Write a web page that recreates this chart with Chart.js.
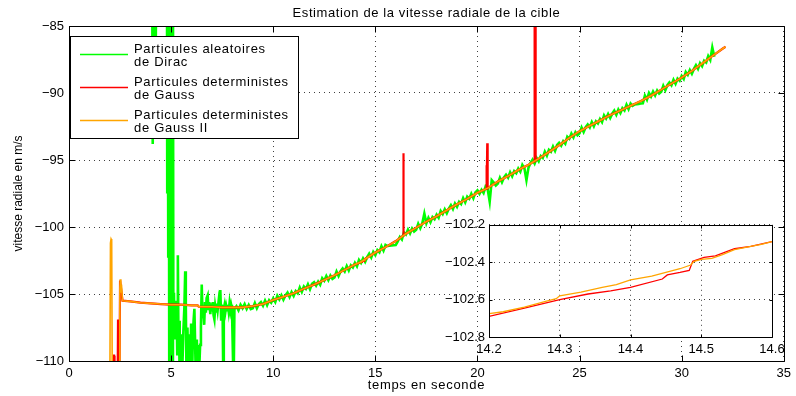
<!DOCTYPE html>
<html>
<head>
<meta charset="utf-8">
<script src="https://cdn.jsdelivr.net/npm/chart.js@4.4.0/dist/chart.umd.min.js"></script>
<style>
    body { margin: 0; background: #fff; }
    #wrap { position: relative; width: 796px; height: 396px; }
    #chart { position: absolute; left: 0; top: 0; }
    #inset { position: absolute; left: 425px; top: 213px; }
</style>
</head>
<body>
<div id="wrap">
    <canvas id="chart" width="796" height="396"></canvas>
    <canvas id="inset" width="365" height="150"></canvas>
</div>
<script>
// Data
const chartTitle = 'Estimation de la vitesse radiale de la cible'
const xTitle = 'temps en seconde'
const yTitle = 'vitesse radiale en m/s'
const seriesLabels = [
    ['Particules aleatoires', 'de Dirac'],
    ['Particules deterministes', 'de Gauss'],
    ['Particules deterministes', 'de Gauss II']
]
const seriesColors = ['rgb(0, 255, 0)', 'rgb(255, 0, 0)', 'rgb(255, 165, 0)']

const xTicks = [0, 5, 10, 15, 20, 25, 30, 35]
const yTicks = [-110, -105, -100, -95, -90, -85]
const insetXTicks = [14.2, 14.3, 14.4, 14.5, 14.6]
const insetYTicks = [-102.8, -102.6, -102.4, -102.2]

// Dirac particles, transient part [t, v]
const diracStart = [
    [4.05, -70], [4.10, -93.8], [4.13, -80], [4.17, -86.5], [4.21, -79], [4.25, -86], [4.29, -78], [4.32, -70],
    [4.79, -70], [4.81, -97.4], [4.83, -75], [4.86, -102.2], [4.88, -75], [4.91, -112], [4.94, -75], [4.97, -112],
    [5.01, -78], [5.05, -112], [5.09, -80], [5.11, -108.0], [5.14, -104.9], [5.17, -108.4], [5.20, -105.5],
    [5.23, -107.5], [5.27, -106.0], [5.30, -109.5], [5.33, -102.1], [5.36, -108.5], [5.39, -107.0], [5.42, -112],
    [5.45, -108.0], [5.48, -112], [5.52, -108.8], [5.55, -110.5], [5.60, -107.8], [5.65, -106.0], [5.69, -103.3],
    [5.72, -105.8], [5.76, -112], [5.80, -107.5], [5.85, -112], [5.90, -108.0], [5.95, -109.8], [5.98, -107.2],
    [6.02, -112], [6.06, -108.5], [6.10, -107.0], [6.14, -106.1], [6.18, -109.0], [6.22, -112], [6.26, -108.4],
    [6.30, -112], [6.34, -108.8], [6.38, -110.5], [6.42, -108.8], [6.46, -107.5], [6.50, -104.3], [6.54, -106.8],
    [6.58, -106.2], [6.62, -107.3], [6.66, -105.6], [6.70, -106.4], [6.74, -105.3], [6.79, -105.1], [6.83, -106.2],
    [6.87, -105.6], [6.92, -106.5], [6.96, -105.7], [7.00, -106.3], [7.04, -105.6], [7.08, -106.6], [7.12, -106.9],
    [7.16, -105.9], [7.20, -106.3], [7.24, -105.7], [7.28, -106.2], [7.33, -105.5], [7.37, -106.0], [7.41, -104.7],
    [7.45, -106.9], [7.48, -105.8], [7.52, -106.2], [7.56, -112], [7.58, -106.1], [7.62, -105.8], [7.66, -106.3],
    [7.70, -105.9], [7.74, -106.2], [7.78, -105.8], [7.82, -106.3], [7.86, -105.7], [7.90, -106.2], [7.94, -105.8],
    [7.98, -106.1], [8.06, -112]
]
// Dirac particles, noisy part, one value every 0.1 s from 8.1 s
const diracTailT0 = 8.1
const diracTailDt = 0.1
const diracTail = [
    -106.14, -105.92, -106.22, -105.8, -106.06, -105.76, -106.12, -105.82, -106.12,
    -106.06, -105.67, -106.06, -105.75, -105.6, -105.87, -105.49, -105.83, -105.47, -105.65,
    -105.33, -105.6, -105.13, -105.4, -105.09, -105.42, -105.11, -104.9, -105.23, -104.86,
    -105.15, -104.78, -104.95, -104.52, -104.85, -104.44, -104.62, -104.28, -104.64, -104.24,
    -104.12, -104.37, -104.08, -104.31, -103.82, -104.01, -103.66, -103.97, -103.62, -103.87,
    -103.76, -103.32, -103.66, -103.3, -103.1, -103.32, -102.92, -103.24, -102.86, -103.02,
    -102.68, -102.94, -102.46, -102.68, -102.34, -102.6, -102.25, -101.99, -102.28, -101.86,
    -102.1, -101.72, -101.88, -101.44, -101.76, -101.34, -101.42, -101.4, -101.38, -101.36,
    -101.34, -101.08, -100.75, -100.94, -100.41, -100.56, -100.19, -100.48, -100.11, -100.34,
    -100.21, -99.76, -100.09, -99.72, -99.0, -99.72, -99.32, -99.64, -99.26, -99.42,
    -99.08, -99.31, -98.8, -99.03, -98.68, -98.97, -98.62, -98.37, -98.66, -98.25,
    -98.5, -98.12, -98.28, -97.84, -98.16, -97.74, -97.89, -97.52, -97.85, -97.42,
    -97.27, -97.52, -97.23, -97.46, -96.97, -97.16, -98.1, -96.5, -96.68, -96.9,
    -96.76, -96.32, -96.66, -96.3, -96.1, -96.32, -95.91, -96.22, -95.83, -95.98,
    -95.63, -95.87, -95.37, -95.61, -96.5, -95.57, -95.22, -94.97, -95.26, -94.85,
    -95.1, -94.7, -94.84, -94.38, -94.68, -94.24, -94.38, -94.0, -94.32, -93.88,
    -93.72, -93.93, -93.6, -93.79, -93.26, -93.41, -93.03, -93.31, -92.93, -93.15,
    -93.01, -92.57, -92.91, -92.55, -92.35, -92.57, -92.17, -92.49, -92.11, -92.27,
    -91.93, -92.17, -91.67, -91.91, -91.57, -91.87, -91.54, -91.31, -91.62, -91.23,
    -91.5, -91.13, -91.3, -90.87, -91.2, -90.79, -90.96, -90.85, -90.83, -90.81,
    -90.79, -90.77, -90.2, -90.5, -90.0, -90.26, -89.89, -90.18, -89.81, -90.04,
    -89.91, -89.46, -89.79, -89.42, -89.21, -89.42, -89.01, -89.32, -88.93, -89.08,
    -88.73, -88.95, -88.43, -88.65, -88.29, -88.57, -88.2, -87.93, -88.2, -87.77,
    -88.0, -87.59, -87.72, -87.25, -87.54, -86.6, -87.3
]

// Gauss particles [t, v]
const gaussPts = [
    [2.15, -112], [2.18, -109.6], [2.21, -109.6], [2.23, -112], [2.38, -112], [2.40, -106.9], [2.43, -112],
    [2.47, -112], [2.50, -104.0], [2.55, -104.6], [2.62, -105.5],
    [3, -105.55], [3.5, -105.65], [4, -105.7], [4.5, -105.75], [5, -105.8], [5.5, -105.8], [6, -105.85],
    [6.3, -105.85], [6.35, -105.95], [7, -105.95], [7.5, -106.0], [8, -106.0], [8.5, -106.0], [9, -105.9],
    [9.5, -105.75], [10, -105.45], [10.5, -105.2], [11, -104.95], [11.5, -104.6], [12, -104.3], [12.5, -103.95],
    [13, -103.6], [13.5, -103.2], [14, -102.8],
    [14.2, -102.69], [14.25, -102.645], [14.30, -102.60], [14.34, -102.57], [14.372, -102.553], [14.40, -102.535],
    [14.445, -102.49], [14.452, -102.468], [14.47, -102.455], [14.483, -102.444], [14.488, -102.395],
    [14.504, -102.374], [14.52, -102.366], [14.547, -102.328], [14.57, -102.315], [14.60, -102.29],
    [15, -101.9], [15.5, -101.5], [16, -101.05], [16.36, -100.65], [16.37, -94.5], [16.39, -100.62], [16.5, -100.5],
    [17, -100.05], [17.5, -99.6], [18, -99.2], [18.5, -98.75], [19, -98.3], [19.5, -97.9], [20, -97.45],
    [20.43, -97.15], [20.44, -95.4], [20.46, -97.13], [20.48, -93.75], [20.5, -97.1], [21, -96.6], [21.5, -96.2],
    [22, -95.75], [22.5, -95.35], [22.79, -95.1], [22.8, -70], [22.84, -70], [22.85, -95.05], [23, -94.9],
    [23.5, -94.4], [24, -93.9], [24.5, -93.35], [25, -92.85], [25.5, -92.45], [26, -92.05], [26.5, -91.65],
    [27, -91.3], [27.5, -90.95], [28, -90.6], [28.5, -90.2], [29, -89.75], [29.5, -89.3], [30, -88.85],
    [30.5, -88.35], [31, -87.8], [31.5, -87.25], [32, -86.7], [32.15, -86.55]
]

// Gauss II particles [t, v]
const gauss2Pts = [
    [2.00, -112], [2.03, -101.2], [2.06, -100.9], [2.09, -101.0], [2.12, -112],
    [2.46, -112], [2.49, -104.6], [2.51, -103.9], [2.54, -104.9], [2.57, -104.3], [2.62, -105.5],
    [3, -105.55], [3.5, -105.65], [4, -105.7], [4.5, -105.75], [5, -105.8], [5.5, -105.8], [6, -105.85],
    [6.3, -105.85], [6.35, -105.95], [7, -105.95], [7.5, -106.0], [8, -106.0], [8.5, -106.0], [9, -105.9],
    [9.5, -105.75], [10, -105.45], [10.5, -105.2], [11, -104.95], [11.5, -104.6], [12, -104.3], [12.5, -103.95],
    [13, -103.6], [13.5, -103.2], [14, -102.8],
    [14.2, -102.675], [14.22, -102.665], [14.25, -102.64], [14.28, -102.61], [14.295, -102.595], [14.30, -102.58],
    [14.33, -102.56], [14.36, -102.535], [14.38, -102.52], [14.40, -102.495], [14.43, -102.475], [14.45, -102.455],
    [14.47, -102.435], [14.485, -102.415], [14.49, -102.395], [14.50, -102.385], [14.515, -102.38], [14.53, -102.36],
    [14.547, -102.333], [14.57, -102.315], [14.585, -102.305], [14.60, -102.29],
    [15, -101.9], [15.5, -101.5], [16, -101.05], [16.5, -100.5], [17, -100.05], [17.5, -99.6], [18, -99.2],
    [18.5, -98.75], [19, -98.3], [19.5, -97.9], [20, -97.45], [20.5, -97.1], [21, -96.6], [21.5, -96.2],
    [22, -95.75], [22.5, -95.35], [23, -94.9], [23.5, -94.4], [24, -93.9], [24.5, -93.35], [25, -92.85],
    [25.5, -92.45], [26, -92.05], [26.5, -91.65], [27, -91.3], [27.5, -90.95], [28, -90.6], [28.5, -90.2],
    [29, -89.75], [29.5, -89.3], [30, -88.85], [30.5, -88.35], [31, -87.8], [31.5, -87.25], [32, -86.7],
    [32.15, -86.55]
]

// Helpers
const toXY = pts => pts.map(([x, y]) => ({ x, y }))
const diracData = toXY(diracStart).concat(
    diracTail.map((y, i) => ({ x: Math.round((diracTailT0 + i * diracTailDt) * 100) / 100, y }))
)
const minus = s => String(s).replace('-', '\u2212')
const FONT = 'Liberation Sans, Arial, sans-serif'

// plugins
const whiteArea = {
    id: 'whiteArea',
    beforeDraw(chart) {
        const { ctx, chartArea: a } = chart
        ctx.save()
        ctx.fillStyle = '#fff'
        ctx.fillRect(a.left, a.top, a.right - a.left, a.bottom - a.top)
        ctx.restore()
    }
}

const matlabBox = {
    id: 'matlabBox',
    afterDatasetsDraw(chart, args, opts) {
        const { ctx, chartArea: a, scales } = chart
        const len = opts.tickLength
        const l = Math.round(a.left) + 0.5, r = Math.round(a.right) + 0.5
        const t = Math.round(a.top) + 0.5, b = Math.round(a.bottom) + 0.5
        ctx.save()
        ctx.strokeStyle = '#000'
        ctx.lineWidth = 1
        ctx.beginPath()
        ctx.rect(l, t, r - l, b - t)
        scales.x.ticks.forEach(tick => {
            const x = Math.round(scales.x.getPixelForValue(tick.value)) + 0.5
            ctx.moveTo(x, b); ctx.lineTo(x, b - len)
            ctx.moveTo(x, t); ctx.lineTo(x, t + len)
        })
        scales.y.ticks.forEach(tick => {
            const y = Math.round(scales.y.getPixelForValue(tick.value)) + 0.5
            ctx.moveTo(l, y); ctx.lineTo(l + len, y)
            ctx.moveTo(r, y); ctx.lineTo(r - len, y)
        })
        ctx.stroke()
        ctx.restore()
    }
}

const matlabText = {
    id: 'matlabText',
    afterDraw(chart, args, opts) {
        const { ctx, chartArea: a } = chart
        const cx = (a.left + a.right) / 2
        ctx.save()
        ctx.fillStyle = '#000'
        ctx.textAlign = 'center'
        ctx.textBaseline = 'alphabetic'
        ctx.font = opts.titleFont
        ctx.letterSpacing = opts.titleSpacing
        ctx.fillText(chartTitle, cx, opts.titleY)
        ctx.font = opts.xFont
        ctx.letterSpacing = opts.xSpacing
        ctx.fillText(xTitle, cx, opts.xTitleY)
        ctx.font = opts.yFont
        ctx.letterSpacing = opts.ySpacing
        ctx.translate(opts.yTitleX, (a.top + a.bottom) / 2)
        ctx.rotate(-Math.PI / 2)
        ctx.fillText(yTitle, 0, 0)
        ctx.restore()
    }
}

const boxLegend = {
    id: 'boxLegend',
    afterDraw(chart, args, opts) {
        const { ctx, chartArea: a } = chart
        const x = Math.round(a.left) + opts.offsetX
        const y = Math.round(a.top) + opts.offsetY
        ctx.save()
        ctx.fillStyle = '#fff'
        ctx.fillRect(x, y, opts.width, opts.height)
        ctx.strokeStyle = '#000'
        ctx.lineWidth = 1
        ctx.strokeRect(x + 0.5, y + 0.5, opts.width, opts.height)
        ctx.font = opts.font
        ctx.letterSpacing = opts.spacing
        ctx.textAlign = 'left'
        ctx.textBaseline = 'alphabetic'
        seriesLabels.forEach((lines, i) => {
            const ly = y + opts.firstRow + i * opts.rowGap
            ctx.strokeStyle = seriesColors[i]
            ctx.lineWidth = 1.5
            ctx.beginPath()
            ctx.moveTo(x + 10, ly + 0.5)
            ctx.lineTo(x + 58, ly + 0.5)
            ctx.stroke()
            ctx.fillStyle = '#000'
            lines.forEach((line, k) => ctx.fillText(line, x + 64, ly - 1 + k * 12.7))
        })
        ctx.restore()
    }
}

const gridOpts = { color: 'rgba(0, 0, 0, 0.75)', lineWidth: 1, drawTicks: false }
const borderOpts = { display: false, dash: [1, 4] }
const tickFont = { family: FONT, size: 13 }

// main chart
new Chart(document.getElementById('chart'), {
    type: 'line',
    data: {
        datasets: [
            { label: seriesLabels[0].join(' '), data: diracData, borderColor: seriesColors[0], borderWidth: 2.6, order: 3 },
            { label: seriesLabels[1].join(' '), data: toXY(gaussPts), borderColor: seriesColors[1], borderWidth: 2.2, order: 2 },
            { label: seriesLabels[2].join(' '), data: toXY(gauss2Pts), borderColor: seriesColors[2], borderWidth: 1.6, order: 1 }
        ]
    },
    options: {
        responsive: false,
        animation: false,
        devicePixelRatio: 1,
        elements: { point: { radius: 0 }, line: { tension: 0, fill: false } },
        layout: { padding: { top: 26, right: 9, left: 0, bottom: 0 } },
        plugins: {
            legend: { display: false },
            tooltip: { enabled: false },
            matlabBox: { tickLength: 6 },
            matlabText: {
                titleFont: '13px ' + FONT, titleSpacing: '0.6px', titleY: 17,
                xFont: '13px ' + FONT, xSpacing: '0.7px', xTitleY: 389,
                yFont: '12px ' + FONT, ySpacing: '0px', yTitleX: 22
            },
            boxLegend: {
                offsetX: 1, offsetY: 10, width: 228, height: 102,
                firstRow: 18, rowGap: 33, font: '13px ' + FONT, spacing: '0.7px'
            }
        },
        scales: {
            x: {
                type: 'linear', min: 0, max: 35,
                afterFit(scale) { scale.height = 35 },
                afterBuildTicks(scale) { scale.ticks = xTicks.map(value => ({ value })) },
                ticks: { color: '#000', font: tickFont, padding: 5, maxRotation: 0, callback: v => minus(v) },
                grid: gridOpts, border: borderOpts
            },
            y: {
                type: 'linear', min: -110, max: -85,
                afterFit(scale) { scale.width = 69 },
                afterBuildTicks(scale) { scale.ticks = yTicks.map(value => ({ value })) },
                ticks: { color: '#000', font: tickFont, padding: 5, callback: v => minus(v) },
                grid: gridOpts, border: borderOpts
            }
        }
    },
    plugins: [matlabBox, matlabText, boxLegend]
})

// inset
new Chart(document.getElementById('inset'), {
    type: 'line',
    data: {
        datasets: [
            { label: seriesLabels[1].join(' '), data: toXY(gaussPts), borderColor: seriesColors[1], borderWidth: 1.3, order: 2 },
            { label: seriesLabels[2].join(' '), data: toXY(gauss2Pts), borderColor: seriesColors[2], borderWidth: 1.3, order: 1 }
        ]
    },
    options: {
        responsive: false,
        animation: false,
        devicePixelRatio: 1,
        elements: { point: { radius: 0 }, line: { tension: 0, fill: false } },
        layout: { padding: { top: 10, right: 18, left: 0, bottom: 0 } },
        plugins: {
            legend: { display: false },
            tooltip: { enabled: false },
            matlabBox: { tickLength: 3 }
        },
        scales: {
            x: {
                type: 'linear', min: 14.2, max: 14.6,
                afterFit(scale) { scale.height = 26 },
                afterBuildTicks(scale) { scale.ticks = insetXTicks.map(value => ({ value })) },
                ticks: { color: '#000', font: tickFont, padding: 5, maxRotation: 0, callback: v => v.toFixed(1) },
                grid: gridOpts, border: borderOpts
            },
            y: {
                type: 'linear', min: -102.8, max: -102.2,
                afterFit(scale) { scale.width = 64 },
                afterBuildTicks(scale) { scale.ticks = insetYTicks.map(value => ({ value })) },
                ticks: { color: '#000', font: tickFont, padding: 4, callback: v => minus(v.toFixed(1)) },
                grid: gridOpts, border: borderOpts
            }
        }
    },
    plugins: [whiteArea, matlabBox]
})
</script>
</body>
</html>
